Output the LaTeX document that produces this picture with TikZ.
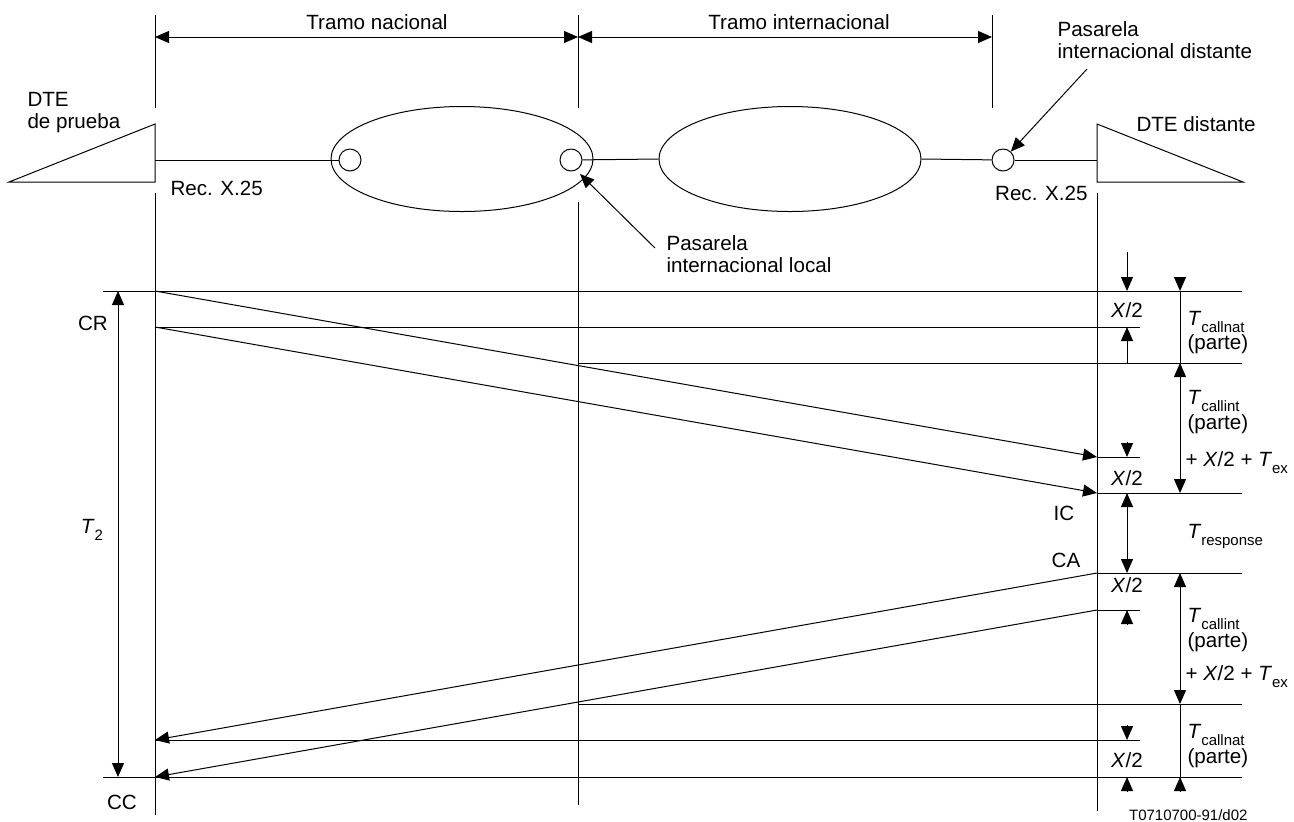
\documentclass[tikz,border=0pt]{standalone}
\usepackage{fontspec}
\setmainfont{Liberation Sans}
\usetikzlibrary{arrows.meta,shapes.geometric}
\newcommand{\tsub}[1]{\textit{T}\raisebox{-3.5pt}{\fontsize{7.5}{8}\selectfont #1}}
\newcommand{\xhalf}{\textit{X}/2}
\tikzset{lbl/.style={inner sep=0pt,font=\fontsize{10.3}{11}\selectfont},
 txt/.style={lbl,anchor=west,align=left},
 arr/.style={-{Triangle[length=7pt,width=6pt]}},
 dim/.style={{Triangle[length=7pt,width=6pt]}-{Triangle[length=7pt,width=6pt]}},
 net/.style={draw,ellipse,inner sep=0pt,minimum width=131pt,minimum height=52.5pt},
 gw/.style={draw,circle,fill=white,inner sep=0pt,minimum size=11pt}}

\begin{document}
\begin{tikzpicture}[x=0.5pt,y=-0.5pt,line width=0.5pt]
\useasboundingbox (0,0) rectangle (1294,821);
\foreach \x in {155,578,992} \draw (\x,15)--(\x,108);
\draw (155,193)--(155,815);
\draw (578,202)--(578,805);
\draw (1097,193)--(1097,811);
\coordinate (natl) at (155,37);
\coordinate (natr) at (578,37);
\coordinate (intr) at (992,37);
\draw[dim] (natl)--(natr);
\draw[dim] (natr)--(intr);
\node[lbl] (tnat) at (377,22) {Tramo nacional};
\node[lbl] (tint) at (799,22) {Tramo internacional};
\draw (9,182)--(155,124)--(155,182)--cycle;
\draw (1097,124)--(1243,182)--(1097,182)--cycle;
\node[net] (netnat) at (462,159) {};
\node[net] (netint) at (790,159) {};
\node[gw] (gwa) at (350,160) {};
\node[gw] (gwloc) at (571,160) {};
\node[gw] (gwdist) at (1003,160) {};
\draw (155,160)--(gwa);
\draw (gwloc)--(netint.west);
\draw (netint.east)--(gwdist);
\draw (gwdist)--(1097,160);
\node[txt] (dtea) at (27,113) {DTE\\de prueba};
\node[txt] (dteb) at (1136,124) {DTE distante};
\node[txt] (reca) at (170,188) {Rec. X.25};
\node[lbl,anchor=east] (recb) at (1088,193) {Rec. X.25};
\node[txt] (ploc) at (666,254) {Pasarela\\internacional local};
\node[txt] (pdist) at (1057,40) {Pasarela\\internacional distante};
\draw[arr] (655,248)--(580,174);
\draw[arr] (1087,69)--(gwdist);
\foreach \xa/\xb/\y in {103/1242/291,155/1140/327,578/1242/363,1097/1140/457,1097/1242/493,
 1097/1242/573,1097/1140/610,578/1242/704,155/1140/740,103/1242/777}
 \draw (\xa,\y)--(\xb,\y);
\draw[arr] (155,291)--(1097,457);
\draw[arr] (155,327)--(1097,493);
\draw[arr] (1097,573)--(155,740);
\draw[arr] (1097,610)--(155,777);
\draw[dim] (118,291)--(118,777);
\node[lbl] (cr) at (93,323) {CR};
\node[lbl] (ttwo) at (92,530) {\tsub{2}};
\node[lbl] (cc) at (122,802) {CC};
\node[lbl] (ic) at (1064,513) {IC};
\node[lbl] (ca) at (1066,560) {CA};
\draw[arr] (1127,252)--(1127,291);
\draw[arr] (1127,363)--(1127,327);
\draw[arr] (1127,442)--(1127,457);
\draw[dim] (1127,493)--(1127,573);
\draw[arr] (1127,625)--(1127,610);
\draw[arr] (1127,725)--(1127,740);
\draw[arr] (1127,792)--(1127,777);
\foreach \y in {310,478,585,760} \node[lbl] at (1127,\y) {\xhalf};
\draw[arr] (1180,277)--(1180,291);
\draw (1180,291)--(1180,363);
\draw[dim] (1180,363)--(1180,493);
\draw[dim] (1180,573)--(1180,704);
\draw (1180,704)--(1180,777);
\draw[arr] (1180,792)--(1180,777);
\node[txt] at (1187,333) {\tsub{callnat}\\(parte)};
\node[txt] at (1187,412) {\tsub{callint}\\(parte)};
\node[txt] at (1185,463) {+ \xhalf{} + \tsub{ex}};
\node[txt] at (1187,536) {\tsub{response}};
\node[txt] at (1187,630) {\tsub{callint}\\(parte)};
\node[txt] at (1185,677) {+ \xhalf{} + \tsub{ex}};
\node[txt] at (1187,746) {\tsub{callnat}\\(parte)};
\node[lbl,anchor=east,font=\fontsize{7.5}{9}\selectfont] at (1248,815) {T0710700-91/d02};
\end{tikzpicture}
\end{document}
